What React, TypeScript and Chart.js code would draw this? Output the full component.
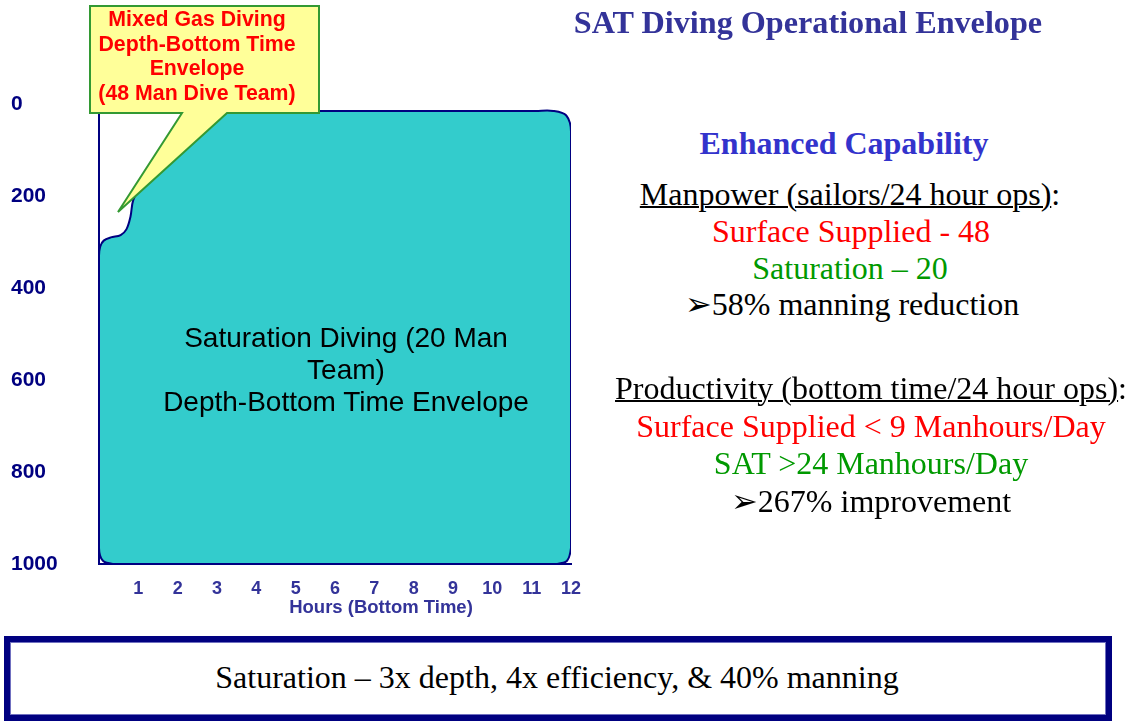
import React, { useEffect, useRef } from "react";
import { Chart, registerables } from "chart.js";

Chart.register(...registerables);

// ---- Data ----
const envelopeHours = [0, 0, 0.1, 0.38, 0.9, 11.1, 11.62, 11.9, 12, 12, 12, 11.88, 11.55, 11.1, 3.0, 2.6, 2.3, 1.8, 1.35, 1.05, 0.87, 0.8, 0.7, 0.55, 0.3, 0.12, 0.03, 0, 0];
const envelopeDepth = [600, 965, 993, 1000, 1000, 1000, 1000, 993, 965, 920, 60, 25, 15, 15, 15, 15, 35, 75, 130, 180, 209, 245, 272, 285, 290, 297, 310, 330, 600];
const hourTicks = [1, 2, 3, 4, 5, 6, 7, 8, 9, 10, 11, 12];
const depthTicks = [0, 200, 400, 600, 800, 1000];

const xAxisTitle = "Hours (Bottom Time)";
const calloutLines = ["Mixed Gas Diving", "Depth-Bottom Time", "Envelope", "(48 Man Dive Team)"];
const envelopeLabelLines = ["Saturation Diving (20 Man", "Team)", "Depth-Bottom Time Envelope"];
const pageTitle = "SAT Diving Operational Envelope";
const sideHeading = "Enhanced Capability";
const manpowerLines = ["Surface Supplied - 48", "Saturation \u2013 20", "\u27A258% manning reduction"];
const productivityLines = ["Surface Supplied < 9 Manhours/Day", "SAT >24 Manhours/Day", "\u27A2267% improvement"];
const footerText = "Saturation \u2013 3x depth, 4x efficiency, & 40% manning";

const SANS = "'Liberation Sans', Arial, sans-serif";
const SERIF = "'Liberation Serif', 'Times New Roman', serif";

type TProps = {
  x: number;
  y: number;
  size: number;
  color: string;
  bold?: boolean;
  serif?: boolean;
  children: React.ReactNode;
};

function T({ x, y, size, color, bold, serif, children }: TProps) {
  return (
    <div
      style={{
        position: "absolute",
        left: x,
        top: y,
        transform: "translate(-50%, -50%)",
        whiteSpace: "nowrap",
        fontFamily: serif ? SERIF : SANS,
        fontSize: size,
        fontWeight: bold ? 700 : 400,
        color,
        lineHeight: `${Math.round(size * 1.2)}px`,
      }}
    >
      {children}
    </div>
  );
}

export default function App() {
  const canvasRef = useRef<HTMLCanvasElement | null>(null);

  useEffect(() => {
    const canvas = canvasRef.current;
    if (!canvas) return;
    const chart = new Chart(canvas, {
      type: "scatter",
      data: {
        datasets: [
          {
            data: envelopeHours.map((h, i) => ({ x: h, y: envelopeDepth[i] })),
            showLine: true,
            fill: "shape",
            backgroundColor: "#33CCCC",
            borderColor: "#000080",
            borderWidth: 2,
            pointRadius: 0,
            pointHoverRadius: 0,
            tension: 0.35,
          } as any,
        ],
      },
      options: {
        animation: false,
        responsive: false,
        maintainAspectRatio: false,
        events: [],
        layout: { padding: { left: 11, right: 49, top: 104, bottom: 0 } },
        plugins: {
          legend: { display: false },
          tooltip: { enabled: false },
          title: { display: false },
        },
        scales: {
          x: {
            type: "linear",
            min: 0,
            max: 12,
            grid: { display: false, drawTicks: false },
            border: { display: true, color: "#000080", width: 2 },
            afterBuildTicks: (s: any) => {
              s.ticks = hourTicks.map((v) => ({ value: v }));
            },
            afterFit: (s: any) => {
              s.height = 66;
            },
            ticks: {
              padding: 14,
              color: "#333399",
              autoSkip: false,
              maxRotation: 0,
              font: { family: SANS, size: 18, weight: "bold" },
              callback: (v: any) => String(v),
            },
          },
          y: {
            type: "linear",
            reverse: true,
            min: 0,
            max: 1000,
            grid: { display: false, drawTicks: false },
            border: { display: true, color: "#000080", width: 2 },
            afterBuildTicks: (s: any) => {
              s.ticks = depthTicks.map((v) => ({ value: v }));
            },
            afterFit: (s: any) => {
              s.width = 88;
            },
            ticks: {
              crossAlign: "far",
              color: "#000080",
              autoSkip: false,
              font: { family: SANS, size: 21, weight: "bold" },
              callback: (v: any) => String(v),
            },
          },
        },
      } as any,
    });
    return () => chart.destroy();
  }, []);

  const ul = { textDecoration: "underline", textDecorationThickness: "2px" } as React.CSSProperties;

  return (
    <div style={{ position: "absolute", left: 0, top: 0, width: 1133, height: 723, background: "#ffffff", overflow: "hidden" }}>
      <canvas
        ref={canvasRef}
        width={620}
        height={630}
        style={{ position: "absolute", left: 0, top: 0, width: 620, height: 630 }}
      />

      {/* envelope label */}
      {envelopeLabelLines.map((line, i) => (
        <T key={"e" + i} x={346} y={338 + i * 32} size={28} color="#000000">
          {line}
        </T>
      ))}

      <T x={381} y={607} size={18.5} color="#333399" bold>
        {xAxisTitle}
      </T>

      {/* callout */}
      <svg width={340} height={230} style={{ position: "absolute", left: 0, top: 0 }}>
        <path
          d="M90,6 H319 V113 H227 L118,212 L182,113 H90 Z"
          fill="#FFFF99"
          stroke="#339933"
          strokeWidth={2}
          strokeLinejoin="miter"
        />
      </svg>
      {calloutLines.map((line, i) => (
        <T key={"c" + i} x={197} y={19 + i * 24.7} size={21.3} color="#FF0000" bold>
          {line}
        </T>
      ))}

      {/* right side */}
      <T x={808} y={22} size={32.2} color="#333399" bold serif>
        {pageTitle}
      </T>
      <T x={844} y={143} size={32} color="#3333CC" bold serif>
        {sideHeading}
      </T>

      <T x={850} y={194} size={32} color="#000000" serif>
        <span style={ul}>Manpower (sailors/24 hour ops)</span>:
      </T>
      <T x={851} y={231} size={32} color="#FF0000" serif>
        {manpowerLines[0]}
      </T>
      <T x={850} y={268} size={32} color="#009900" serif>
        {manpowerLines[1]}
      </T>
      <T x={852} y={304} size={32} color="#000000" serif>
        {manpowerLines[2]}
      </T>

      <T x={871} y={388} size={32} color="#000000" serif>
        <span style={ul}>Productivity (bottom time/24 hour ops)</span>:
      </T>
      <T x={871} y={426} size={32} color="#FF0000" serif>
        {productivityLines[0]}
      </T>
      <T x={871} y={463} size={32} color="#009900" serif>
        {productivityLines[1]}
      </T>
      <T x={871} y={501} size={32} color="#000000" serif>
        {productivityLines[2]}
      </T>

      {/* footer box */}
      <div
        style={{
          position: "absolute",
          left: 4,
          top: 636,
          width: 1108,
          height: 85,
          border: "6px solid #000080",
          boxSizing: "border-box",
          boxShadow: "inset 0 0 0 1px #7070c0",
        }}
      />
      <T x={557} y={677} size={32} color="#000000" serif>
        {footerText}
      </T>
    </div>
  );
}
